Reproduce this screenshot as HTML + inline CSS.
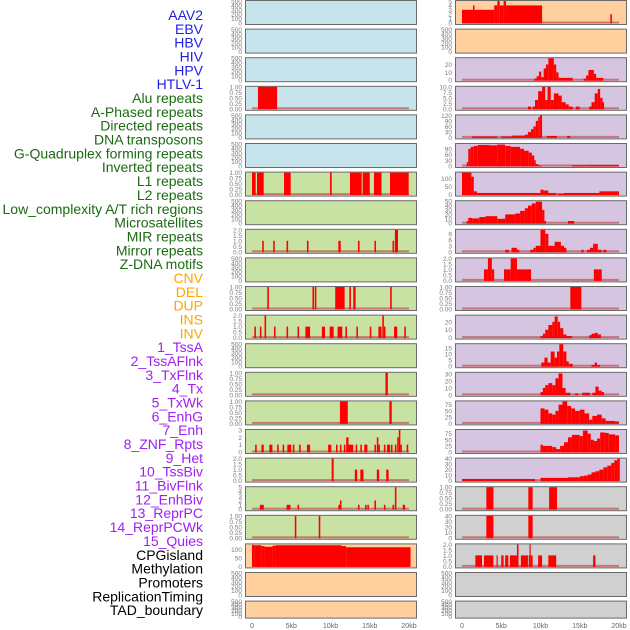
<!DOCTYPE html>
<html><head><meta charset="utf-8"><style>
html,body{margin:0;padding:0;background:#fff;}
svg{display:block;font-family:"Liberation Sans",sans-serif;}
</style></head><body>
<svg id="chart" width="630" height="630" viewBox="0 0 630 630"></svg>
<script>
// ---- data ----
const trackLabels = ["AAV2","EBV","HBV","HIV","HPV","HTLV-1","Alu repeats","A-Phased repeats","Directed repeats","DNA transposons","G-Quadruplex forming repeats","Inverted repeats","L1 repeats","L2 repeats","Low_complexity A/T rich regions","Microsatellites","MIR repeats","Mirror repeats","Z-DNA motifs","CNV","DEL","DUP","INS","INV","1_TssA","2_TssAFlnk","3_TxFlnk","4_Tx","5_TxWk","6_EnhG","7_Enh","8_ZNF_Rpts","9_Het","10_TssBiv","11_BivFlnk","12_EnhBiv","13_ReprPC","14_ReprPCWk","15_Quies","CPGisland","Methylation","Promoters","ReplicationTiming","TAD_boundary"];
const labelGroups = [6,13,5,15,5];
const groupColors = ["#1f1fe0","#1a6b12","#ffa500","#a020f0","#000000"];
const xTicks = [0,5,10,15,20];
const xTickLabels = ["0","5kb","10kb","15kb","20kb"];
const E500 = [0,100,200,300,400,500];
const P1 = [0,0.25,0.5,0.75,1.0];
const P2 = [0,0.5,1,1.5,2.0];
const leftBars = [
 [],[],[],
 [[0.76,3.2,1]],
 [],[],
 [[0,0.47,1],[0.64,1.49,1],[4.08,4.93,1],[9.94,10.15,1],[12.48,13.97,1],[14.1,15.0,1],[15.54,16.5,1],[17.58,19.96,1]],
 [],
 [[1.3,1.5,1],[2.7,2.9,1],[4.4,4.6,1],[7.0,7.2,1],[11.0,11.3,1],[13.5,13.7,1],[15.6,15.8,1],[17.9,18.1,1],[18.2,18.6,2]],
 [],
 [[1.95,2.15,1],[7.7,7.9,1],[8.0,8.2,1],[10.6,11.8,1],[12.4,12.6,1],[12.9,13.2,1],[17.6,17.8,1]],
 [[0.3,0.5,1],[1.0,1.2,1],[1.6,1.8,2],[2.8,3.0,1],[4.4,4.6,1],[5.8,6.0,1],[6.8,7.4,1],[8.9,9.3,1],[9.9,10.4,1],[10.9,11.5,1],[11.9,12.1,1],[13.3,13.5,1],[15.0,15.2,1],[16.1,16.5,1],[16.6,16.8,2],[16.8,17.0,1],[18.1,18.5,1],[19.4,19.6,1]],
 [],
 [[17.0,17.3,1]],
 [[11.2,12.2,1],[17.5,17.8,1]],
 [[0.4,0.6,1],[1.2,1.5,1],[2.2,2.6,1],[3.2,3.4,1],[3.9,4.1,1],[4.5,5.0,1],[5.2,5.4,1],[6.0,6.2,1],[7.0,7.4,1],[9.7,10.1,1],[10.7,10.9,1],[11.2,11.4,1],[11.7,11.9,1],[12.0,12.3,2],[12.3,12.9,1],[13.2,13.4,1],[13.8,14.0,1],[14.3,14.7,1],[15.6,15.8,1],[15.9,16.1,2],[16.1,16.3,1],[16.8,17.0,1],[17.2,17.6,1],[17.7,17.9,1],[18.2,18.4,1],[18.5,18.7,2],[18.7,18.9,3],[18.9,19.1,1],[19.7,19.9,1]],
 [[10.15,10.4,2],[13.1,13.4,1],[13.8,14.2,1],[15.9,16.2,1],[17.1,17.4,1]],
 [[1.0,1.5,1],[4.4,4.9,1],[5.8,6.0,1],[11.0,11.2,1],[11.2,11.4,2],[13.5,13.7,1],[14.4,14.6,1],[14.7,14.9,1],[15.6,15.8,2],[16.8,17.0,1],[17.9,18.1,1],[18.2,18.4,5],[19.2,19.5,1]],
 [[5.45,5.65,1],[8.5,8.7,1]],
 [[0,0.3,127],[0.3,1.2,125],[1.2,1.6,120],[1.6,2.6,116],[2.6,3.0,122],[3.0,11.4,125],[11.4,12.0,120],[12.0,20.2,113]],
 [],[]
];
const leftTicks = [E500,E500,E500,P1,E500,E500,P1,E500,P2,E500,P1,P2,E500,P1,P1,[0,1,2,3],P2,[0,1,2,3,4,5],P1,[0,50,100],E500,E500];
const leftMax = [500,500,500,1,500,500,1,500,2,500,1,2,500,1,1,3,2,5,1,130,500,500];
const rightBars = [
 [[0,1.4,3],[1.4,1.6,4],[1.6,4.1,3],[4.1,4.5,4],[4.5,4.8,5],[4.8,5.3,4],[5.3,5.6,5],[5.6,10.2,4],[18.9,19.1,2]],
 [],
 [[9.2,9.5,2],[9.5,9.8,5],[9.8,10.1,11],[10.1,10.4,4],[10.4,10.7,15],[10.7,11.0,20],[11.0,11.7,28],[11.7,12.0,20],[12.0,12.3,10],[12.3,14.1,3],[15.5,15.8,2],[15.8,16.1,6],[16.1,16.8,13],[16.8,17.1,8],[17.1,18.0,3]],
 [[8.4,8.8,1],[9.0,9.3,1],[9.3,9.7,4],[9.7,10.2,8],[10.2,10.6,10],[10.6,10.9,4],[10.9,11.3,10],[11.3,11.7,4],[11.7,12.3,7],[12.3,12.7,6],[12.7,13.2,3],[13.2,13.6,2],[13.6,14.1,1],[14.5,15.0,1],[16.2,16.5,1],[16.5,16.9,3],[16.9,17.3,7],[17.3,17.6,9],[17.6,17.9,5],[17.9,18.1,3]],
 [[1.3,4.5,5],[5.0,6.4,5],[6.4,8.0,10],[8.0,8.4,15],[8.4,8.8,30],[8.8,9.1,45],[9.1,9.4,60],[9.4,9.7,90],[9.7,9.9,110],[9.9,10.2,120],[10.8,12.1,8],[13.4,13.8,8]],
 [[0.6,0.8,20],[0.8,1.1,90],[1.1,1.5,100],[1.5,2.0,105],[2.0,3.5,110],[3.5,4.5,108],[4.5,5.5,112],[5.5,6.2,105],[6.2,7.4,100],[7.4,7.9,90],[7.9,8.5,80],[8.5,8.9,70],[8.9,9.2,55],[9.2,9.4,30],[9.4,9.7,10],[9.7,10.1,3],[14.0,16.0,4],[16.0,20.0,5]],
 [[0,1.2,135],[1.2,1.5,110],[1.5,1.9,20],[1.9,10.0,10],[10.0,10.4,30],[10.4,11.0,25],[11.0,12.0,10],[12.2,13.0,5],[13.0,17.5,10],[17.5,20.0,20]],
 [[0.6,0.8,5],[0.8,1.3,12],[1.3,2.2,11],[2.2,3.0,14],[3.0,4.5,16],[4.5,5.5,10],[5.5,6.8,20],[6.8,7.4,22],[7.4,8.0,28],[8.0,8.4,34],[8.4,8.9,40],[8.9,9.4,45],[9.4,10.2,49],[10.2,10.5,30],[10.5,10.7,5],[13.5,14.3,5]],
 [[5.5,6.0,1],[6.3,7.0,2],[7.0,7.3,1],[8.7,9.1,1],[9.1,9.4,2],[9.4,10.0,3],[10.0,10.6,11],[10.6,11.0,9],[11.0,11.8,3],[11.8,12.6,5],[12.6,13.0,3],[13.0,13.3,2],[15.2,15.5,1],[15.9,16.3,1],[16.3,16.7,2],[16.7,17.3,4],[17.3,17.8,1],[18.0,18.4,1]],
 [[2.8,3.3,1],[3.3,3.8,2],[3.8,4.1,1],[5.35,6.2,1],[6.2,7.0,2],[7.0,8.8,1],[16.8,17.8,1]],
 [[13.8,15.2,1]],
 [[10.0,10.3,2],[10.3,10.6,5],[10.6,11.0,10],[11.0,11.5,16],[11.5,11.8,20],[11.8,12.2,27],[12.2,12.5,20],[12.5,12.9,12],[12.9,13.3,4],[13.3,14.0,2],[16.2,16.5,3],[16.5,16.9,5],[16.9,17.3,6],[17.3,17.7,4]],
 [[10.1,10.5,3],[10.5,10.9,7],[10.9,11.3,3],[11.3,11.8,12],[11.8,12.1,7],[12.1,12.4,12],[12.4,12.9,18],[12.9,13.3,12],[13.3,13.6,4],[13.6,14.1,2],[16.5,16.9,1],[16.9,17.2,3],[17.2,17.6,1]],
 [[10.0,10.3,4],[10.3,10.6,10],[10.6,11.0,14],[11.0,11.5,17],[11.5,11.9,14],[11.9,12.3,24],[12.3,12.8,31],[12.8,13.2,10],[13.2,13.8,3],[14.4,14.8,2],[15.3,16.3,3],[16.6,17.0,3],[17.0,17.4,12],[17.4,17.8,6],[17.8,18.1,4]],
 [[10.0,10.5,60],[10.5,11.0,55],[11.0,11.5,40],[11.5,11.9,35],[11.9,12.3,50],[12.3,12.8,75],[12.8,13.4,88],[13.4,13.9,70],[13.9,14.4,60],[14.4,15.0,50],[15.0,15.6,55],[15.6,16.2,40],[16.2,16.6,15],[16.6,17.2,30],[17.2,17.8,35],[17.8,18.3,20],[18.3,19.5,10],[19.5,20.0,8]],
 [[10.0,10.3,30],[10.3,11.0,25],[11.0,11.5,25],[11.5,12.0,20],[12.0,12.5,12],[12.5,13.0,25],[13.0,13.5,40],[13.5,14.0,60],[14.0,15.0,70],[15.0,15.4,65],[15.4,16.0,88],[16.0,16.4,75],[16.4,16.8,50],[16.8,17.2,45],[17.2,17.6,55],[17.6,18.2,80],[18.2,18.7,78],[18.7,19.5,72],[19.5,20.0,68]],
 [[0,9.3,3],[10.0,13.5,5],[13.5,15.0,6],[15.0,15.5,8],[15.5,16.0,9],[16.0,16.5,11],[16.5,17.0,15],[17.0,17.5,17],[17.5,18.0,20],[18.0,18.5,24],[18.5,19.0,27],[19.0,19.4,32],[19.4,19.8,37],[19.8,20.1,40]],
 [[3.1,4.0,1],[8.45,9.0,1],[11.1,12.1,1]],
 [[3.1,4.0,40],[8.45,9.0,40]],
 [[1.7,2.55,1],[2.8,4.0,1],[4.4,4.55,1],[5.0,5.3,1],[5.5,5.9,1],[6.1,7.0,1],[7.0,7.2,2],[7.5,8.4,1],[8.5,8.6,1],[8.6,8.75,2],[8.75,9.0,1],[9.7,10.2,1],[11.0,12.0,1],[16.7,17.0,1]],
 [],[]
];
const rightTicks = [[0,1,2,3,4,5],E500,[0,10,20],[0,2.5,5,7.5,10],[0,30,60,90,120],[0,30,60,90],[0,50,100],[0,10,20,30,40,50],[0,3,6,9],P2,P1,[0,10,20],[0,5,10,15],[0,10,20,30],[0,25,50,75],[0,25,50,75],[0,10,20,30,40],P1,[0,10,20,30,40],P2,E500,E500];
const rightMax = [5,500,28,10,120,115,135,50,11,2,1,28,18,32,88,90,40,1,40,2,500,500];
const leftFill = ["#c7e3ec","#c7e3ec","#c7e3ec","#c7e3ec","#c7e3ec","#c7e3ec","#c8e2a4","#c8e2a4","#c8e2a4","#c8e2a4","#c8e2a4","#c8e2a4","#c8e2a4","#c8e2a4","#c8e2a4","#c8e2a4","#c8e2a4","#c8e2a4","#c8e2a4","#ffcf9e","#ffcf9e","#ffcf9e"];
const rightFill = ["#ffcf9e","#ffcf9e","#d6c5e1","#d6c5e1","#d6c5e1","#d6c5e1","#d6c5e1","#d6c5e1","#d6c5e1","#d6c5e1","#d6c5e1","#d6c5e1","#d6c5e1","#d6c5e1","#d6c5e1","#d6c5e1","#d6c5e1","#d0d0d0","#d0d0d0","#d0d0d0","#d0d0d0","#d0d0d0"];

// ---- drawing ----
const NS = "http://www.w3.org/2000/svg";
const svg = document.getElementById("chart");
function mk(tag, attrs, parent){const e=document.createElementNS(NS,tag);for(const k in attrs)e.setAttribute(k,attrs[k]);(parent||svg).appendChild(e);return e;}
const ROW = 28.6, PH = 24, PW = 171;
const colLeft = [245, 455];
const pxPerKb = 7.85;
function xScale(col, kb){return colLeft[col] + 7 + kb*pxPerKb;}
function rowTop(r){return 0.5 + r*ROW;}
function rowH(r){return r===21 ? 17 : PH;}
function yScale(r, v, max){const t=rowTop(r), h=rowH(r);return t + h - 1.5 - (v/max)*(h-2);}
function decimals(v){const s=String(v);const i=s.indexOf('.');return i<0?0:s.length-i-1;}

let li = 0;
labelGroups.forEach((n,g)=>{
  for(let k=0;k<n;k++){
    const t = mk("text",{x:203,y:15+li*13.84+5,"text-anchor":"end","font-size":"14",fill:groupColors[g]});
    
    
    t.textContent = trackLabels[li];
    li++;
  }
});

function drawCol(col, bars, ticks, maxes, fills){
  for(let r=0;r<22;r++){
    const top=rowTop(r), h=rowH(r);
    const g = mk("g",{});
    
    
    const bg = mk("rect",{x:colLeft[col]+0.5,y:top,width:PW,height:h,fill:fills[r],stroke:"#6a6a6a","stroke-width":1},g);
    
    
    const mx = maxes[r];
    const dec = Math.max(...ticks[r].map(decimals));
    ticks[r].forEach(tv=>{
      const t = mk("text",{x:colLeft[col]-3,y:yScale(r,tv,mx)+2.5,"text-anchor":"end","font-size":"6.5",fill:"#7a7a7a"},g);
      
      
      t.textContent = tv.toFixed(dec);
    });
    if(bars[r].length){
      const bl = mk("rect",{x:xScale(col,0),y:top+h-3,width:20*pxPerKb,height:2,fill:"#c05050",opacity:0.7},g);
      
      
    }
    bars[r].forEach(b=>{
      const x0=xScale(col,b[0]), x1=xScale(col,b[1]);
      const y=yScale(r,b[2],mx), yb=top+h-1;
      const rc = mk("rect",{x:x0,y:y,width:Math.max(x1-x0,1.2),height:Math.max(yb-y,0),fill:"#ff0000"},g);
      
      
    });
  }
  xTicks.forEach((kb,i)=>{
    const t = mk("text",{x:xScale(col,kb),y:628,"text-anchor":"middle","font-size":"7",fill:"#666"});
    
    
    t.textContent = xTickLabels[i];
  });
}
drawCol(0, leftBars, leftTicks, leftMax, leftFill);
drawCol(1, rightBars, rightTicks, rightMax, rightFill);
</script>
</body></html>
